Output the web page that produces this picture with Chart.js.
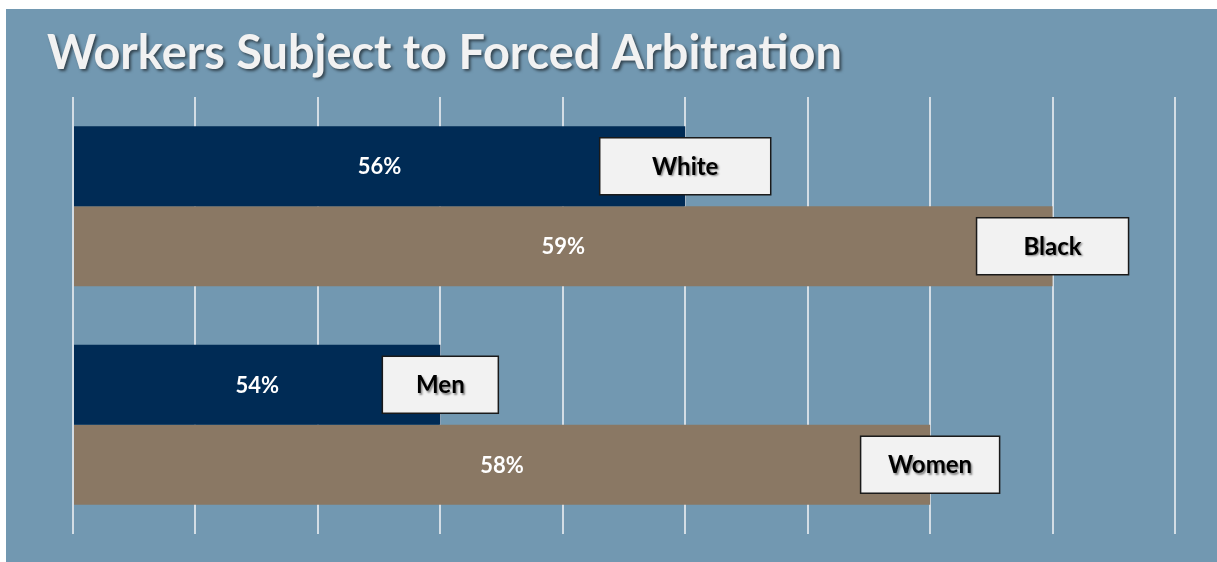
<!DOCTYPE html>
<html>
<head>
<meta charset="utf-8">
<script src="https://cdn.jsdelivr.net/npm/chart.js@4.4.1/dist/chart.umd.min.js"></script>
<style>
  html, body { margin: 0; padding: 0; background: #ffffff; }
  #wrap { width: 1217px; height: 562px; }
</style>
</head>
<body>
<div id="wrap"><canvas id="c" width="1217" height="562"></canvas></div>
<script>
// ---- data ----
const titleText = 'Workers Subject to Forced Arbitration';
const categories = ['Race', 'Gender'];
const firstLabels = ['White', 'Men'];
const firstValues = [56, 54];
const secondLabels = ['Black', 'Women'];
const secondValues = [59, 58];
const axisMin = 51;
const axisMax = 60;
const axisStep = 1;

// ---- styles ----
const panelColor = '#7298B1';
const navy = '#002B55';
const tan = '#8A7864';
const gridColor = '#D3DDE5';
const boxWidths = [[171, 116], [152, 139]];

const labelPlugin = {
  id: 'labels',
  beforeDraw(chart) {
    const ctx = chart.ctx;
    ctx.save();
    ctx.fillStyle = '#ffffff';
    ctx.fillRect(0, 0, chart.width, chart.height);
    ctx.fillStyle = panelColor;
    ctx.fillRect(6, 9, chart.width - 6, chart.height - 9);
    // title
    ctx.font = 'bold 48px Lato';
    const w = ctx.measureText(titleText).width;
    const targetW = 795;
    ctx.translate(47, 69);
    ctx.scale(targetW / w, 1);
    ctx.shadowColor = 'rgba(0,0,0,0.55)';
    ctx.shadowOffsetX = 2;
    ctx.shadowOffsetY = 2;
    ctx.shadowBlur = 3;
    ctx.fillStyle = '#F2F2F2';
    ctx.textBaseline = 'alphabetic';
    ctx.textAlign = 'left';
    ctx.fillText(titleText, 0, 0);
    ctx.restore();
  },
  afterDatasetsDraw(chart) {
    const ctx = chart.ctx;
    chart.data.datasets.forEach((ds, di) => {
      const meta = chart.getDatasetMeta(di);
      meta.data.forEach((bar, i) => {
        const left = bar.base;
        const right = bar.x;
        const cy = bar.y;
        // value label
        ctx.save();
        ctx.font = 'bold 22px Lato';
        ctx.fillStyle = '#FFFFFF';
        ctx.textAlign = 'center';
        ctx.textBaseline = 'middle';
        ctx.fillText(ds.data[i] + '%', (left + right) / 2, cy + 1);
        ctx.restore();
        // name box
        const bw = boxWidths[di][i];
        const bh = 57;
        ctx.save();
        ctx.fillStyle = '#F2F2F2';
        ctx.strokeStyle = '#1A1A1A';
        ctx.lineWidth = 1.5;
        ctx.fillRect(right - bw / 2, cy - bh / 2, bw, bh);
        ctx.strokeRect(right - bw / 2, cy - bh / 2, bw, bh);
        ctx.font = 'bold 24px Lato';
        ctx.fillStyle = '#000000';
        ctx.textAlign = 'center';
        ctx.textBaseline = 'middle';
        ctx.shadowColor = 'rgba(0,0,0,0.45)';
        ctx.shadowOffsetX = 1.5;
        ctx.shadowOffsetY = 1.5;
        ctx.shadowBlur = 2;
        ctx.fillText(ds.names[i], right, cy + 1);
        ctx.restore();
      });
    });
  }
};

new Chart(document.getElementById('c'), {
  type: 'bar',
  data: {
    labels: categories,
    datasets: [
      { label: 'First', names: firstLabels, data: firstValues, backgroundColor: navy, base: axisMin,
        categoryPercentage: 0.732, barPercentage: 1.0 },
      { label: 'Second', names: secondLabels, data: secondValues, backgroundColor: tan, base: axisMin,
        categoryPercentage: 0.732, barPercentage: 1.0 }
    ]
  },
  options: {
    indexAxis: 'y',
    responsive: false,
    animation: false,
    layout: { padding: { left: 73, right: 42, top: 97, bottom: 28 } },
    plugins: { legend: { display: false }, tooltip: { enabled: false }, title: { display: false } },
    scales: {
      x: {
        min: axisMin, max: axisMax,
        ticks: { display: false, stepSize: axisStep },
        grid: { color: gridColor, lineWidth: 2, drawTicks: false },
        border: { display: false }
      },
      y: { display: false }
    }
  },
  plugins: [labelPlugin]
});
</script>
</body>
</html>
